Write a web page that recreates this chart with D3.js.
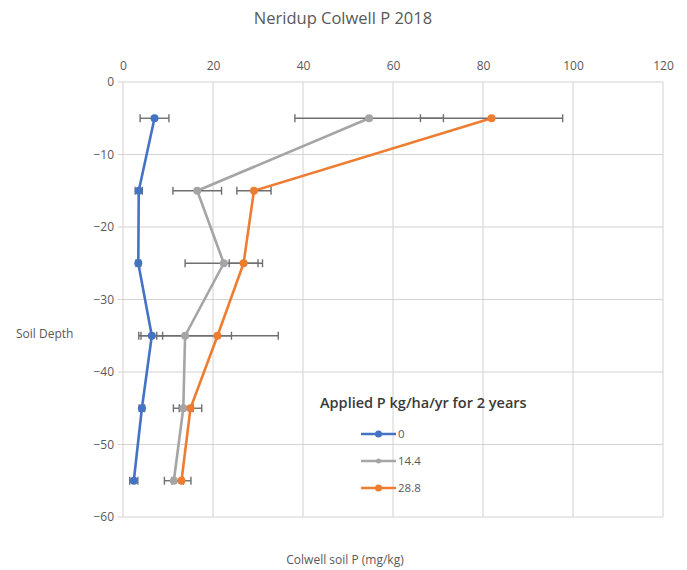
<!DOCTYPE html>
<html>
<head>
<meta charset="utf-8">
<script src="https://cdn.jsdelivr.net/npm/d3@7"></script>
<style>
  body { margin: 0; background: #fff; }
  svg { display: block; font-family: "Open Sans", "Noto Sans", sans-serif; }
</style>
</head>
<body>
<svg id="chart" width="687" height="570"></svg>
<script>
// Soil sampling depths (cm, negative downwards)
const depths = [-5, -15, -25, -35, -45, -55];

// Colwell P (mg/kg) for each applied P rate, with error bar half-widths
const seriesNames = ["0", "14.4", "28.8"];
const p0 = [7.0, 3.5, 3.4, 6.4, 4.2, 2.4];
const p0Err = [3.2, 0.8, 0.5, 2.4, 0.6, 0.9];
const p14 = [54.7, 16.5, 22.4, 13.8, 13.4, 11.3];
const p14Err = [16.5, 5.4, 8.6, 10.3, 2.2, 2.1];
const p28 = [81.9, 29.1, 26.8, 21.0, 15.0, 13.0];
const p28Err = [15.8, 3.8, 3.2, 13.5, 2.5, 2.1];

const xTicks = [0, 20, 40, 60, 80, 100, 120];
const yTicks = [0, -10, -20, -30, -40, -50, -60];

const colors = ["#4472C4", "#A5A5A5", "#ED7D31"];

const series = [
  { name: seriesNames[0], values: p0, errs: p0Err, color: colors[0] },
  { name: seriesNames[1], values: p14, errs: p14Err, color: colors[1] },
  { name: seriesNames[2], values: p28, errs: p28Err, color: colors[2] }
];

const svg = d3.select("#chart");
const plot = { left: 123, right: 663, top: 82, bottom: 517 };

const x = d3.scaleLinear().domain([0, 120]).range([plot.left, plot.right]);
const y = d3.scaleLinear().domain([0, -60]).range([plot.top, plot.bottom]);

// Title
svg.append("text")
  .attr("x", 343).attr("y", 24)
  .attr("text-anchor", "middle")
  .attr("font-size", 16.5)
  .attr("fill", "#595959")
  .text("Neridup Colwell P 2018");

// Gridlines
const grid = svg.append("g");
grid.selectAll("line.v").data(xTicks).join("line")
  .attr("class", "v")
  .attr("x1", d => x(d)).attr("x2", d => x(d))
  .attr("y1", plot.top).attr("y2", plot.bottom)
  .attr("stroke", "#d6d2d0").attr("stroke-width", 1);
grid.selectAll("line.h").data(yTicks).join("line")
  .attr("class", "h")
  .attr("x1", plot.left - 5).attr("x2", plot.right)
  .attr("y1", d => y(d)).attr("y2", d => y(d))
  .attr("stroke", "#d6d2d0").attr("stroke-width", 1);

// Top axis (tick labels only)
const xAxis = svg.append("g")
  .attr("transform", `translate(0,${plot.top - 12})`)
  .call(d3.axisTop(x).tickValues(xTicks).tickSize(0).tickPadding(0));
xAxis.select(".domain").remove();
xAxis.selectAll("text").attr("font-size", 12).attr("fill", "#595959")
  .attr("font-family", "Open Sans, Noto Sans, sans-serif");

// Left axis
const yAxis = svg.append("g")
  .attr("transform", `translate(${plot.left - 9},0)`)
  .call(d3.axisLeft(y).tickValues(yTicks).tickSize(0).tickPadding(0).tickFormat(d3.format("d")));
yAxis.select(".domain").remove();
yAxis.selectAll("text").attr("font-size", 12).attr("fill", "#595959")
  .attr("font-family", "Open Sans, Noto Sans, sans-serif");

// Axis titles
svg.append("text")
  .attr("x", 16).attr("y", 338)
  .attr("font-size", 12).attr("fill", "#595959")
  .text("Soil Depth");
svg.append("text")
  .attr("x", 345).attr("y", 564)
  .attr("text-anchor", "middle")
  .attr("font-size", 12).attr("fill", "#595959")
  .text("Colwell soil P (mg/kg)");

// Lines
const line = d3.line().x(d => x(d.v)).y(d => y(d.d));
const marks = svg.append("g");
series.forEach(s => {
  const pts = s.values.map((v, i) => ({ v, d: depths[i], e: s.errs[i] }));
  marks.append("path")
    .datum(pts)
    .attr("d", line)
    .attr("fill", "none")
    .attr("stroke", s.color)
    .attr("stroke-width", 2.6)
    .attr("stroke-linejoin", "round");
});

// Error bars
const errG = svg.append("g");
series.forEach(s => {
  const pts = s.values.map((v, i) => ({ v, d: depths[i], e: s.errs[i] }));
  const g = errG.append("g").attr("stroke", "#6f6f6f").attr("stroke-width", 1.4);
  g.selectAll("line.bar").data(pts).join("line")
    .attr("x1", d => x(d.v - d.e)).attr("x2", d => x(d.v + d.e))
    .attr("y1", d => y(d.d)).attr("y2", d => y(d.d));
  g.selectAll("line.capl").data(pts).join("line")
    .attr("x1", d => x(d.v - d.e)).attr("x2", d => x(d.v - d.e))
    .attr("y1", d => y(d.d) - 4).attr("y2", d => y(d.d) + 4);
  g.selectAll("line.capr").data(pts).join("line")
    .attr("x1", d => x(d.v + d.e)).attr("x2", d => x(d.v + d.e))
    .attr("y1", d => y(d.d) - 4).attr("y2", d => y(d.d) + 4);
});

// Markers
series.forEach(s => {
  const pts = s.values.map((v, i) => ({ v, d: depths[i] }));
  svg.append("g").selectAll("circle").data(pts).join("circle")
    .attr("cx", d => x(d.v)).attr("cy", d => y(d.d))
    .attr("r", 4)
    .attr("fill", s.color);
});

// Legend
const legend = svg.append("g");
legend.append("text")
  .attr("x", 320).attr("y", 408)
  .attr("font-size", 14.5).attr("font-weight", 600).attr("fill", "#3a3a3a")
  .text("Applied P kg/ha/yr for 2 years");
series.forEach((s, i) => {
  const ly = 434 + i * 27;
  legend.append("line")
    .attr("x1", 361).attr("x2", 396)
    .attr("y1", ly).attr("y2", ly)
    .attr("stroke", s.color).attr("stroke-width", 2.6);
  legend.append("circle")
    .attr("cx", 378.5).attr("cy", ly).attr("r", i === 1 ? 2.5 : 3.5)
    .attr("fill", s.color);
  legend.append("text")
    .attr("x", 398).attr("y", ly + 4)
    .attr("font-size", 11.5).attr("fill", "#595959")
    .text(s.name);
});
</script>
</body>
</html>
